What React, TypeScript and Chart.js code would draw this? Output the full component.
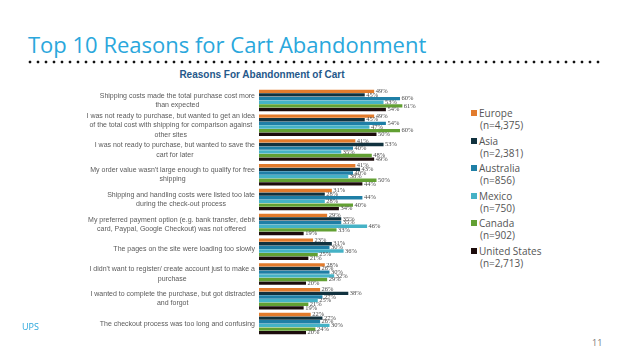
import React, { useEffect, useRef } from "react";
import { Chart, registerables } from "chart.js";

Chart.register(...registerables);

const categories: string[][] = [
  ["Shipping costs made the total purchase cost more", "than expected"],
  ["I was not ready to purchase, but wanted to get an idea", "of the total cost with shipping for comparison against", "other sites"],
  ["I was not ready to purchase, but wanted to save the", "cart for later"],
  ["My order value wasn't large enough to qualify for free", "shipping"],
  ["Shipping and handling costs were listed too late", "during the check-out process"],
  ["My preferred payment option (e.g. bank transfer, debit", "card, Paypal, Google Checkout) was not offered"],
  ["The pages on the site were loading too slowly"],
  ["I didn't want to register/ create account just to make a", "purchase"],
  ["I wanted to complete the purchase, but got distracted", "and forgot"],
  ["The checkout process was too long and confusing"],
];

const seriesNames = ["Europe", "Asia", "Australia", "Mexico", "Canada", "United States"];
const sampleSizes = ["(n=4,375)", "(n=2,381)", "(n=856)", "(n=750)", "(n=902)", "(n=2,713)"];
const seriesColors = ["#e27b2c", "#11323f", "#1f7fa6", "#45b2c6", "#62a033", "#1c0c0c"];

const europe = [49, 49, 41, 41, 31, 29, 23, 28, 26, 22];
const asia = [45, 45, 53, 43, 28, 35, 31, 26, 38, 27];
const australia = [60, 54, 40, 40, 44, 35, 30, 30, 27, 26];
const mexico = [53, 47, 35, 38, 28, 46, 36, 32, 25, 30];
const canada = [61, 60, 48, 50, 40, 33, 25, 29, 21, 24];
const unitedStates = [54, 50, 49, 44, 34, 19, 21, 20, 19, 20];

const seriesValues = [europe, asia, australia, mexico, canada, unitedStates];

const yLabelPlugin = {
  id: "yLabels",
  afterDraw(chart: any) {
    const ctx = chart.ctx;
    const scale = chart.scales.y;
    const right = chart.chartArea.left - 4;
    ctx.save();
    ctx.font = "7px 'Liberation Sans', Arial, sans-serif";
    ctx.fillStyle = "#5a5a5a";
    ctx.textAlign = "center";
    ctx.textBaseline = "middle";
    const lh = 9.5;
    categories.forEach((lines, i) => {
      const cy = scale.getPixelForValue(i);
      const w = Math.max(...lines.map((l) => ctx.measureText(l).width));
      const cx = right - w / 2;
      const start = cy - ((lines.length - 1) * lh) / 2;
      lines.forEach((l, j) => ctx.fillText(l, cx, start + j * lh));
    });
    ctx.restore();
  },
};

const valueLabelPlugin = {
  id: "valueLabels",
  afterDatasetsDraw(chart: any) {
    const ctx = chart.ctx;
    ctx.save();
    ctx.font = "6.5px 'Liberation Serif', serif";
    ctx.fillStyle = "#4a4a4a";
    ctx.textAlign = "left";
    ctx.textBaseline = "middle";
    chart.data.datasets.forEach((ds: any, di: number) => {
      const meta = chart.getDatasetMeta(di);
      meta.data.forEach((el: any, i: number) => {
        ctx.fillText(ds.data[i] + "%", el.x + 1.5, el.y);
      });
    });
    ctx.restore();
  },
};

function ChartCanvas() {
  const ref = useRef<HTMLCanvasElement | null>(null);
  useEffect(() => {
    if (!ref.current) return;
    const chart = new Chart(ref.current, {
      type: "bar",
      data: {
        labels: categories.map((c) => c.join(" ")),
        datasets: seriesNames.map((name, i) => ({
          label: name,
          data: seriesValues[i],
          backgroundColor: seriesColors[i],
          borderWidth: 0,
          categoryPercentage: 0.88,
          barPercentage: 0.92,
        })),
      },
      options: {
        indexAxis: "y",
        animation: false,
        responsive: false,
        maintainAspectRatio: false,
        layout: { padding: { top: 4, bottom: 4, right: 36.5, left: 0 } },
        plugins: {
          legend: { display: false },
          title: { display: false },
          tooltip: { enabled: false },
        },
        scales: {
          x: { display: false, min: 0, max: 70 },
          y: {
            grid: { display: false },
            border: { display: false },
            ticks: { display: false },
            afterFit: (s: any) => {
              s.width = 259;
            },
          },
        },
      },
      plugins: [yLabelPlugin, valueLabelPlugin],
    } as any);
    return () => chart.destroy();
  }, []);
  return (
    <canvas
      ref={ref}
      width={460}
      height={256}
      style={{ position: "absolute", left: 0, top: 84, width: 460, height: 256 }}
    />
  );
}

export default function App() {
  return (
    <div
      style={{
        position: "fixed",
        left: 0,
        top: 0,
        width: 638,
        height: 359,
        background: "#ffffff",
        overflow: "hidden",
        fontFamily: "'Open Sans', sans-serif",
      }}
    >
      <div
        style={{
          position: "absolute",
          left: 28,
          top: 33,
          fontSize: 22,
          lineHeight: 1,
          color: "#2aa7dc",
          whiteSpace: "nowrap",
        }}
      >
        Top 10 Reasons for Cart Abandonment
      </div>
      <div
        style={{
          position: "absolute",
          left: 26,
          top: 60,
          width: 576,
          height: 4,
          backgroundImage: "radial-gradient(circle, #111 1.2px, transparent 1.7px)",
          backgroundSize: "8px 4px",
        }}
      />
      <div
        style={{
          position: "absolute",
          left: 142,
          top: 69,
          width: 240,
          textAlign: "center",
          fontFamily: "'Liberation Sans', Arial, sans-serif",
          fontWeight: "bold",
          fontSize: 10,
          lineHeight: "12px",
          color: "#25588a",
        }}
      >
        Reasons For Abandonment of Cart
      </div>
      <ChartCanvas />
      {seriesNames.map((name, i) => (
        <div
          key={name}
          style={{
            position: "absolute",
            left: 471,
            top: 107 + i * 27.6,
            fontSize: 10,
            lineHeight: "12px",
            color: "#555555",
          }}
        >
          <div style={{ display: "flex", alignItems: "center" }}>
            <span
              style={{
                display: "inline-block",
                width: 6,
                height: 6,
                background: seriesColors[i],
                marginRight: 2,
              }}
            />
            <span>{name}</span>
          </div>
          <div style={{ paddingLeft: 9 }}>{sampleSizes[i]}</div>
        </div>
      ))}
      <div
        style={{
          position: "absolute",
          left: 22,
          top: 321,
          fontSize: 9,
          lineHeight: "12px",
          color: "#2aa7dc",
        }}
      >
        UPS
      </div>
      <div
        style={{
          position: "absolute",
          left: 592,
          top: 337,
          fontSize: 9,
          lineHeight: "12px",
          color: "#777777",
        }}
      >
        11
      </div>
    </div>
  );
}
